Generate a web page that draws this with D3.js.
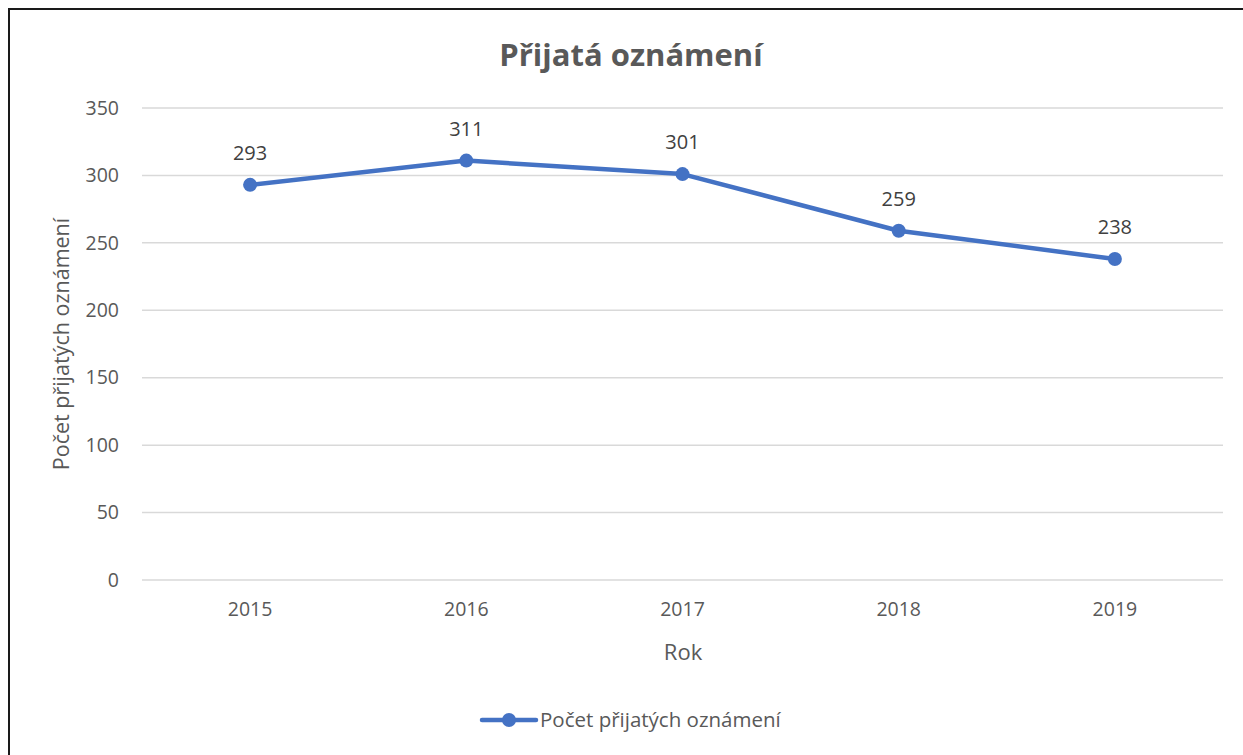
<!DOCTYPE html>
<html>
<head>
<meta charset="utf-8">
<script src="https://cdn.jsdelivr.net/npm/d3@7"></script>
<style>
  body { margin: 0; background: #fff; }
  svg { display: block; font-family: "Open Sans", sans-serif; }
</style>
</head>
<body>
<svg id="chart" width="1243" height="755"></svg>
<script>
var years = ["2015", "2016", "2017", "2018", "2019"];
var counts = [293, 311, 301, 259, 238];
var yTicks = [0, 50, 100, 150, 200, 250, 300, 350];
var seriesName = "Počet přijatých oznámení";

var svg = d3.select("#chart");
var textColor = "#595959";
var lineColor = "#4472C4";

// outer frame
svg.append("rect")
	.attr("x", 9).attr("y", 9)
	.attr("width", 1250).attr("height", 770)
	.attr("fill", "none")
	.attr("stroke", "#1a1a1a")
	.attr("stroke-width", 2);

var plot = {left: 142, right: 1223, top: 108, bottom: 580};

var x = d3.scaleBand()
	.domain(years)
	.range([plot.left, plot.right])
	.padding(0);

var y = d3.scaleLinear()
	.domain([0, 350])
	.range([plot.bottom, plot.top]);

// gridlines
svg.append("g")
	.selectAll("line")
	.data(yTicks)
	.enter()
	.append("line")
	.attr("x1", plot.left).attr("x2", plot.right)
	.attr("y1", function(d){ return y(d); })
	.attr("y2", function(d){ return y(d); })
	.attr("stroke", "#d9d9d9")
	.attr("stroke-width", 1.5);

// y axis labels
var yAxis = d3.axisLeft(y).tickValues(yTicks).tickSize(0).tickPadding(23);
svg.append("g")
	.attr("transform", "translate(" + plot.left + ",0)")
	.call(yAxis)
	.call(function(g){ g.select(".domain").remove(); })
	.selectAll("text")
	.attr("font-size", 19.5)
	.attr("font-family", "Open Sans, sans-serif")
	.attr("fill", textColor);

// x axis labels
var xAxis = d3.axisBottom(x).tickSize(0).tickPadding(22);
svg.append("g")
	.attr("transform", "translate(0," + plot.bottom + ")")
	.call(xAxis)
	.call(function(g){ g.select(".domain").remove(); })
	.selectAll("text")
	.attr("font-size", 19.5)
	.attr("font-family", "Open Sans, sans-serif")
	.attr("fill", textColor);

function cx(d, i){ return x(years[i]) + x.bandwidth() / 2; }

// line
var line = d3.line()
	.x(function(d, i){ return cx(d, i); })
	.y(function(d){ return y(d); });

svg.append("path")
	.datum(counts)
	.attr("d", line)
	.attr("fill", "none")
	.attr("stroke", lineColor)
	.attr("stroke-width", 4.5)
	.attr("stroke-linejoin", "round")
	.attr("stroke-linecap", "round");

svg.append("g")
	.selectAll("circle")
	.data(counts)
	.enter()
	.append("circle")
	.attr("cx", cx)
	.attr("cy", function(d){ return y(d); })
	.attr("r", 7)
	.attr("fill", lineColor);

// data labels
svg.append("g")
	.selectAll("text")
	.data(counts)
	.enter()
	.append("text")
	.attr("x", cx)
	.attr("y", function(d){ return y(d) - 25; })
	.attr("text-anchor", "middle")
	.attr("font-size", 20)
	.attr("fill", "#404040")
	.text(function(d){ return d; });

// title
svg.append("text")
	.attr("x", 631).attr("y", 66)
	.attr("text-anchor", "middle")
	.attr("font-size", 31)
	.attr("font-weight", "bold")
	.attr("fill", textColor)
	.text("Přijatá oznámení");

// axis titles
svg.append("text")
	.attr("x", 683).attr("y", 660)
	.attr("text-anchor", "middle")
	.attr("font-size", 22)
	.attr("fill", textColor)
	.text("Rok");

svg.append("text")
	.attr("transform", "translate(69,344) rotate(-90)")
	.attr("text-anchor", "middle")
	.attr("font-size", 21.5)
	.attr("fill", textColor)
	.text(seriesName);

// legend
var legend = svg.append("g").attr("transform", "translate(482,720)");
legend.append("line")
	.attr("x1", 0).attr("x2", 54)
	.attr("stroke", lineColor)
	.attr("stroke-width", 4.5)
	.attr("stroke-linecap", "round");
legend.append("circle")
	.attr("cx", 27).attr("r", 7)
	.attr("fill", lineColor);
legend.append("text")
	.attr("x", 58).attr("y", 7)
	.attr("font-size", 20.5)
	.attr("fill", textColor)
	.text(seriesName);
</script>
</body>
</html>
